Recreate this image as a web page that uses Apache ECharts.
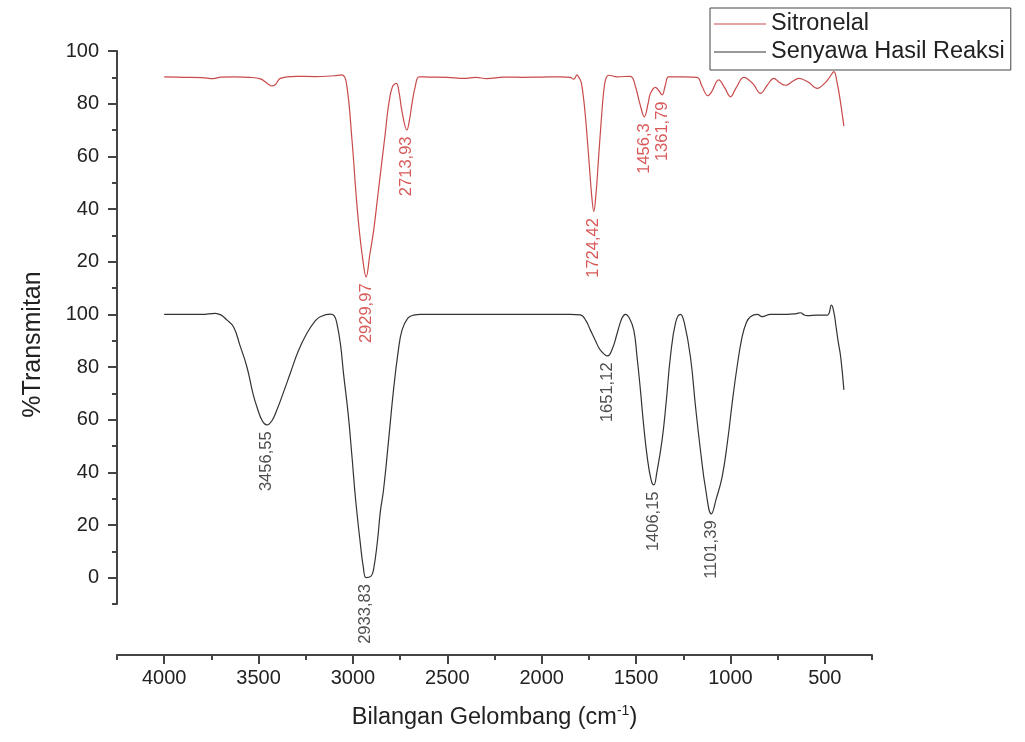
<!DOCTYPE html>
<html>
<head>
<meta charset="utf-8">
<title>FTIR Sitronelal</title>
<script src="https://cdn.jsdelivr.net/npm/echarts@6/dist/echarts.min.js"></script>
<style>
  html, body { margin: 0; padding: 0; background: #fff; }
  #main { width: 1025px; height: 742px; }
</style>
</head>
<body>
<div id="main"></div>
<script>
// spektrum sitronelal (digeser +100 supaya di atas)
const sitronelalWave = [4000, 3900, 3800, 3740, 3700, 3630, 3550, 3490, 3450, 3430, 3410, 3385, 3300, 3200, 3100, 3060, 3035, 3005, 2985, 2970, 2950, 2930, 2910, 2890, 2870, 2850, 2830, 2810, 2790, 2770, 2755, 2740, 2714, 2700, 2687, 2670, 2650, 2600, 2500, 2410, 2350, 2290, 2200, 2100, 2000, 1900, 1850, 1830, 1813, 1800, 1790, 1775, 1760, 1745, 1735, 1724, 1712, 1700, 1685, 1671, 1660, 1645, 1600, 1530, 1503, 1480, 1456, 1435, 1424, 1398, 1380, 1362, 1345, 1327, 1250, 1177, 1150, 1120, 1100, 1062, 1030, 1000, 970, 929, 880, 841, 805, 770, 740, 708, 670, 638, 590, 540, 500, 475, 452, 435, 420, 399]
const sitronelalT = [90.2, 90.0, 89.9, 89.5, 90.1, 90.2, 90.0, 89.4, 87.5, 86.7, 87.3, 89.6, 90.4, 90.3, 90.6, 90.9, 88.0, 66.2, 47, 34.5, 22, 14.2, 23, 32, 44, 56, 68, 80, 86.5, 87.7, 84, 77, 70.0, 74, 80.1, 86.5, 90.2, 90.1, 90.0, 89.6, 90.0, 89.5, 90.1, 90.0, 90.1, 90.2, 90.0, 89.3, 90.9, 89.6, 88, 80, 68, 54, 45, 39.0, 46, 58, 73, 85, 89.5, 90.8, 90.2, 90.4, 86.4, 80, 75.0, 80.5, 83.9, 86.2, 85, 83.3, 87, 90.2, 90.2, 90.0, 86.5, 83.0, 84.5, 89.0, 86, 82.6, 86, 90.0, 87.5, 83.9, 87, 89.6, 88, 87.0, 88.5, 89.6, 88.3, 85.8, 87.8, 90, 92.2, 88, 82, 71.5]

// spektrum senyawa hasil reaksi
const hasilWave = [4000, 3900, 3800, 3730, 3700, 3670, 3633, 3600, 3562, 3530, 3509, 3480, 3456, 3430, 3403, 3370, 3332, 3290, 3244, 3200, 3173, 3120, 3100, 3085, 3065, 3050, 3025, 3005, 2985, 2961, 2945, 2930, 2905, 2891, 2870, 2855, 2838, 2810, 2785, 2760, 2740, 2710, 2679, 2640, 2400, 2000, 1850, 1795, 1765, 1742, 1715, 1689, 1651, 1625, 1600, 1575, 1556, 1535, 1512, 1495, 1477, 1460, 1441, 1420, 1406, 1390, 1362, 1340, 1318, 1290, 1265, 1245, 1212, 1185, 1159, 1130, 1101, 1075, 1044, 1015, 991, 965, 938, 915, 894, 858, 832, 788, 700, 650, 629, 610, 593, 540, 487, 465, 450, 443, 430, 416, 399]
const hasilT = [100, 100, 100, 100.4, 99.8, 98, 95.3, 88.5, 80.1, 70, 64.9, 59.5, 58.0, 59.5, 63.7, 70, 77.6, 86, 92.8, 97.5, 99.1, 100.1, 99.5, 96.6, 88, 77.6, 62, 45.9, 29, 13.1, 4, 0, 0.5, 3, 14, 25, 33.3, 53, 71.3, 86, 94, 98.5, 99.7, 100, 100, 100, 100, 99.8, 97.5, 94, 90, 86.4, 84.2, 87, 92.8, 98.5, 100, 98.5, 94, 84, 71.3, 58, 45.9, 37, 35.2, 40, 52.3, 67, 83.9, 97, 100, 97, 83.9, 65, 48.5, 33, 24.2, 30, 38.3, 52, 66.2, 80, 91.5, 97, 99.1, 100, 99.1, 100, 100, 100.3, 100.6, 99.8, 99.5, 99.7, 99.7, 103.5, 100, 96.6, 90, 83.9, 71.3]

// puncak yang diberi label
const sitronelalPeakWave = [2929.97, 2713.93, 1724.42, 1456.3, 1361.79]
const sitronelalPeakT = [14.2, 70.0, 39.0, 75.0, 83.3]
const hasilPeakWave = [3456.55, 2933.83, 1651.12, 1406.15, 1101.39]
const hasilPeakT = [58.0, 0, 84.2, 35.2, 24.2]

const xMajor = [4000, 3500, 3000, 2500, 2000, 1500, 1000, 500]
const xMinor = [4250, 3750, 3250, 2750, 2250, 1750, 1250, 750, 250]
const yMajor = [0, 20, 40, 60, 80, 100, 120, 140, 160, 180, 200]
const yMinor = [-10, 10, 30, 50, 70, 90, 110, 130, 150, 170, 190]

const offsetAtas = 100
const fontFamily = 'Liberation Sans, Arial, sans-serif'
const axisColor = '#444'
const merah = '#c94a4a'
const hitam = '#333'

function toPairs(xs, ys, off) {
  return xs.map((x, i) => [x, ys[i] + off])
}

function peakLabel(w) {
  return String(w).replace('.', ',')
}

const chart = echarts.init(document.getElementById('main'))

const xBase = {
  type: 'value',
  min: 250,
  max: 4250,
  inverse: true,
  position: 'bottom',
  offset: 51,
  splitLine: { show: false }
}
const yBase = {
  type: 'value',
  min: -10,
  max: 200,
  position: 'left',
  splitLine: { show: false }
}

const option = {
  animation: false,
  backgroundColor: '#fff',
  textStyle: { fontFamily: fontFamily },
  grid: { left: 117, right: 153, top: 51, bottom: 138, containLabel: false },
  legend: {
    data: ['Sitronelal', 'Senyawa Hasil Reaksi'],
    orient: 'vertical',
    left: 710,
    top: 8,
    icon: 'rect',
    itemWidth: 52,
    itemHeight: 1,
    itemGap: 2,
    padding: [3, 6, 5, 4],
    borderColor: axisColor,
    borderWidth: 1,
    textStyle: { fontSize: 23.5, color: '#222', lineHeight: 26, fontFamily: fontFamily }
  },
  xAxis: [
    Object.assign({}, xBase, {
      name: 'Bilangan Gelombang (cm{sup|-1})',
      nameLocation: 'middle',
      nameGap: 49,
      nameTextStyle: {
        fontSize: 23.5, color: '#222', fontFamily: fontFamily,
        rich: { sup: { fontSize: 14, verticalAlign: 'top', padding: [0, 0, 13, 0] } }
      },
      axisLine: { show: true, onZero: false, lineStyle: { color: axisColor, width: 2 } },
      axisTick: { show: true, customValues: xMajor, length: 9, lineStyle: { color: axisColor, width: 2 } },
      axisLabel: { customValues: xMajor, fontSize: 20, color: '#222', margin: 13, formatter: v => String(v) }
    }),
    Object.assign({}, xBase, {
      axisLine: { show: false, onZero: false },
      axisTick: { show: true, customValues: xMinor, length: 5, lineStyle: { color: axisColor, width: 2 } },
      axisLabel: { show: false }
    })
  ],
  yAxis: [
    Object.assign({}, yBase, {
      name: '%Transmitan',
      nameLocation: 'middle',
      nameGap: 71,
      nameTextStyle: { fontSize: 25, color: '#222', fontFamily: fontFamily, padding: [0, 34, 0, 0] },
      axisLine: { show: true, onZero: false, lineStyle: { color: axisColor, width: 2 } },
      axisTick: { show: true, customValues: yMajor, length: 9, lineStyle: { color: axisColor, width: 2 } },
      axisLabel: {
        customValues: yMajor,
        fontSize: 20,
        color: '#222',
        margin: 18,
        formatter: v => String(v > 100 ? v - offsetAtas : v)
      }
    }),
    Object.assign({}, yBase, {
      axisLine: { show: false, onZero: false },
      axisTick: { show: true, customValues: yMinor, length: 5, lineStyle: { color: axisColor, width: 2 } },
      axisLabel: { show: false }
    })
  ],
  series: [
    {
      name: 'Sitronelal',
      type: 'line',
      data: toPairs(sitronelalWave, sitronelalT, offsetAtas),
      symbol: 'none',
      smooth: 0.4,
      lineStyle: { color: merah, width: 1.2 },
      itemStyle: { color: merah }
    },
    {
      name: 'Senyawa Hasil Reaksi',
      type: 'line',
      data: toPairs(hasilWave, hasilT, 0),
      symbol: 'none',
      smooth: 0.45,
      lineStyle: { color: hitam, width: 1.2 },
      itemStyle: { color: hitam }
    },
    {
      name: 'labelAtas',
      type: 'scatter',
      silent: true,
      symbolSize: 1,
      itemStyle: { color: 'rgba(0,0,0,0)' },
      data: toPairs(sitronelalPeakWave, sitronelalPeakT, offsetAtas),
      label: {
        show: true,
        position: 'bottom',
        distance: 6,
        rotate: 90,
        align: 'right',
        verticalAlign: 'middle',
        fontSize: 16.5,
        color: '#d03030',
        formatter: p => peakLabel(sitronelalPeakWave[p.dataIndex])
      }
    },
    {
      name: 'labelBawah',
      type: 'scatter',
      silent: true,
      symbolSize: 1,
      itemStyle: { color: 'rgba(0,0,0,0)' },
      data: toPairs(hasilPeakWave, hasilPeakT, 0),
      label: {
        show: true,
        position: 'bottom',
        distance: 6,
        rotate: 90,
        align: 'right',
        verticalAlign: 'middle',
        fontSize: 16.5,
        color: '#222',
        formatter: p => peakLabel(hasilPeakWave[p.dataIndex])
      }
    }
  ]
}

chart.setOption(option)
</script>
</body>
</html>
